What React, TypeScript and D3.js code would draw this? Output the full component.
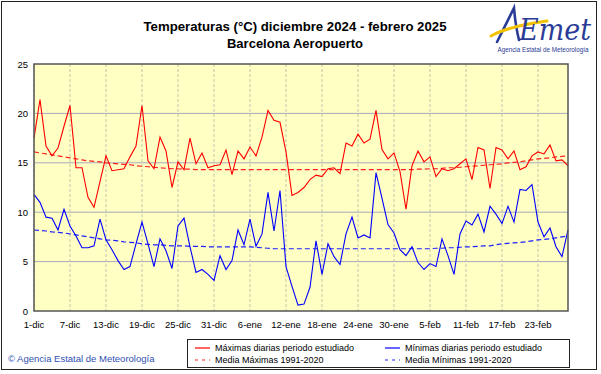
import React from 'react';
import * as d3 from 'd3';

// daily values, 1 Dec 2024 .. 28 Feb 2025
const maxDaily = [
  17.5, 21.4, 16.7, 15.7, 16.5, 18.7, 20.8, 14.5, 14.5, 11.5,
  10.5, 13.1, 15.7, 14.2, 14.3, 14.4, 15.6, 16.7, 20.8, 15.2,
  14.4, 17.6, 16.2, 12.5, 15.1, 14.3, 17.5, 14.9, 16.0, 14.5,
  14.7, 14.8, 16.3, 13.8, 16.2, 15.4, 16.6, 15.7, 17.6, 20.3,
  19.3, 19.1, 16.1, 11.7, 12.0, 12.5, 13.3, 13.75, 13.6, 14.4,
  14.5, 13.9, 17.0, 16.7, 17.9, 17.0, 17.4, 20.3, 16.35, 15.4,
  16.0, 14.1, 10.3, 14.7, 16.2, 15.1, 15.6, 13.6, 14.4, 14.2,
  14.4, 14.9, 15.4, 13.3, 16.55, 16.3, 12.4, 16.55, 16.3, 15.4,
  16.2, 14.3, 14.6, 15.7, 16.1, 15.9, 16.8, 15.2, 15.3, 14.7,
];
const minDaily = [
  11.8, 11.0, 9.5, 9.4, 8.2, 10.3, 8.6, 7.6, 6.4, 6.4,
  6.6, 9.3, 7.2, 6.2, 5.1, 4.2, 4.5, 6.8, 9.0, 6.8,
  4.5, 7.3, 6.1, 4.3, 8.6, 9.4, 6.5, 3.9, 4.2, 3.7,
  3.1, 5.6, 4.2, 5.1, 8.2, 6.7, 9.3, 6.55, 7.8, 12.0,
  8.1, 12.2, 4.5, 2.5, 0.6, 0.7, 2.4, 7.1, 3.7, 6.8,
  5.5, 4.7, 7.8, 9.5, 7.4, 7.7, 7.4, 14.0, 11.4, 8.75,
  7.9, 6.2, 5.6, 6.5, 4.9, 4.2, 4.8, 4.5, 7.3, 5.6,
  3.7, 7.8, 9.1, 8.7, 9.8, 8.0, 10.6, 9.8, 8.85, 10.6,
  9.0, 12.3, 12.2, 12.8, 9.0, 7.5, 8.4, 6.5, 5.5, 8.2,
];
// 1991-2020 normals
const maxNormal = [
  16.1, 16.0, 15.9, 15.8, 15.7, 15.6, 15.5, 15.4, 15.3, 15.2,
  15.15, 15.1, 15.0, 14.95, 14.9, 14.85, 14.8, 14.7, 14.65, 14.6,
  14.55, 14.5, 14.45, 14.4, 14.4, 14.35, 14.35, 14.3, 14.3, 14.3,
  14.3, 14.3, 14.3, 14.3, 14.3, 14.3, 14.3, 14.3, 14.3, 14.3,
  14.3, 14.3, 14.3, 14.3, 14.3, 14.3, 14.3, 14.3, 14.3, 14.3,
  14.3, 14.3, 14.3, 14.3, 14.3, 14.3, 14.3, 14.3, 14.3, 14.3,
  14.3, 14.3, 14.3, 14.3, 14.35, 14.35, 14.4, 14.4, 14.45, 14.5,
  14.5, 14.55, 14.6, 14.65, 14.7, 14.75, 14.8, 14.85, 14.9, 15.0,
  15.05, 15.1, 15.2, 15.3, 15.4, 15.45, 15.5, 15.6, 15.65, 15.7,
];
const minNormal = [
  8.2, 8.15, 8.1, 8.0, 7.95, 7.9, 7.8, 7.7, 7.6, 7.5,
  7.4, 7.3, 7.2, 7.15, 7.1, 7.0, 6.95, 6.9, 6.8, 6.75,
  6.7, 6.7, 6.65, 6.6, 6.6, 6.6, 6.55, 6.55, 6.55, 6.5,
  6.5, 6.5, 6.5, 6.5, 6.5, 6.5, 6.5, 6.45, 6.4, 6.35,
  6.3, 6.3, 6.3, 6.3, 6.3, 6.3, 6.3, 6.3, 6.3, 6.3,
  6.3, 6.3, 6.3, 6.3, 6.3, 6.3, 6.3, 6.3, 6.3, 6.3,
  6.3, 6.3, 6.3, 6.3, 6.3, 6.3, 6.3, 6.35, 6.35, 6.4,
  6.4, 6.45, 6.5, 6.5, 6.55, 6.6, 6.6, 6.7, 6.8, 6.85,
  6.9, 6.95, 7.0, 7.1, 7.2, 7.25, 7.3, 7.4, 7.5, 7.6,
];
const xTickLabels = [
  '1-dic', '7-dic', '13-dic', '19-dic', '25-dic', '31-dic', '6-ene', '12-ene',
  '18-ene', '24-ene', '30-ene', '5-feb', '11-feb', '17-feb', '23-feb',
];
const yTicks = [0, 5, 10, 15, 20, 25];

const font = '"Liberation Sans", Arial, sans-serif';

export default function App() {
  const W = 601, H = 374;
  const left = 34, right = 568, top = 64, bottom = 311;

  const x = d3.scaleLinear().domain([0, maxDaily.length - 1]).range([left, right]);
  const y = d3.scaleLinear().domain([0, 25]).range([bottom, top]);
  const line = d3.line<number>().x((d, i) => x(i)).y(d => y(d));

  return (
    <svg width={W} height={H} style={{ position: 'absolute', left: 0, top: 0 }} fontFamily={font}>
      <rect x={0} y={0} width={W} height={H} fill="#fff" />
      <rect x={1.5} y={1.5} width={595} height={368} fill="#fff" stroke="#222" strokeWidth={1} />

      {/* title */}
      <text x={295} y={31} textAnchor="middle" fontSize={13} fontWeight="bold" fill="#000" textLength={303} lengthAdjust="spacingAndGlyphs">
        Temperaturas (°C) diciembre 2024 - febrero 2025
      </text>
      <text x={295} y={48} textAnchor="middle" fontSize={13} fontWeight="bold" fill="#000">
        Barcelona Aeropuerto
      </text>

      {/* logo */}
      <g>
        <path d="M497,42 C503,30 509,18 514,8 C515,20 517,32 519,40" fill="none" stroke="#2a3c96" strokeWidth={2.6} strokeLinecap="round" />
        <path d="M491,36 C505,28 525,24 547,21" fill="none" stroke="#f2c200" strokeWidth={3} strokeLinecap="round" />
        <text x={519} y={40} fontSize={30} fontStyle="italic" fill="#2a3c96" fontFamily='"DejaVu Serif", serif' textLength={72} lengthAdjust="spacingAndGlyphs">Emet</text>
        <text x={543} y={52} textAnchor="middle" fontSize={6.3} fill="#2a3c96">Agencia Estatal de Meteorología</text>
      </g>

      {/* plot */}
      <rect x={left} y={top} width={right - left} height={bottom - top} fill="#ffffc4" />
      {d3.range(0, maxDaily.length, 6).map(i => (
        <line key={'v' + i} x1={x(i)} x2={x(i)} y1={top} y2={bottom} stroke="#c4c4b0" strokeDasharray="3,2" />
      ))}
      {yTicks.slice(1, -1).map(t => (
        <line key={'h' + t} x1={left} x2={right} y1={y(t)} y2={y(t)} stroke="#a8a8bc" />
      ))}

      <path d={line(maxNormal) || ''} fill="none" stroke="#ff2020" strokeWidth={1.2} strokeDasharray="5,3" />
      <path d={line(minNormal) || ''} fill="none" stroke="#2020ff" strokeWidth={1.2} strokeDasharray="5,3" />
      <path d={line(maxDaily) || ''} fill="none" stroke="#ff0000" strokeWidth={1.1} />
      <path d={line(minDaily) || ''} fill="none" stroke="#0000ff" strokeWidth={1.1} />

      <rect x={left} y={top} width={right - left} height={bottom - top} fill="none" stroke="#555" strokeWidth={1.5} />

      {yTicks.map(t => (
        <text key={'yl' + t} x={28} y={y(t) + 3.5} textAnchor="end" fontSize={9.5} fill="#000">{t}</text>
      ))}
      {xTickLabels.map((s, k) => (
        <text key={s} x={x(k * 6)} y={328} textAnchor="middle" fontSize={9.5} fill="#000">{s}</text>
      ))}

      {/* legend */}
      <rect x={187.5} y={339.5} width={382} height={28} fill="#fff" stroke="#222" />
      <line x1={195} x2={210} y1={348} y2={348} stroke="#ff0000" strokeWidth={1.2} />
      <text x={215} y={351} fontSize={9} fill="#000">Máximas diarias periodo estudiado</text>
      <line x1={195} x2={210} y1={360} y2={360} stroke="#ff2020" strokeWidth={1.2} strokeDasharray="3,4" />
      <text x={215} y={363} fontSize={9} fill="#000">Media Máximas 1991-2020</text>
      <line x1={385} x2={400} y1={348} y2={348} stroke="#0000ff" strokeWidth={1.2} />
      <text x={405} y={351} fontSize={9} fill="#000">Mínimas diarias periodo estudiado</text>
      <line x1={385} x2={400} y1={360} y2={360} stroke="#2020ff" strokeWidth={1.2} strokeDasharray="3,4" />
      <text x={405} y={363} fontSize={9} fill="#000">Media Mínimas 1991-2020</text>

      <text x={8} y={362} fontSize={9.5} fill="#3050b0">© Agencia Estatal de Meteorología</text>
    </svg>
  );
}
